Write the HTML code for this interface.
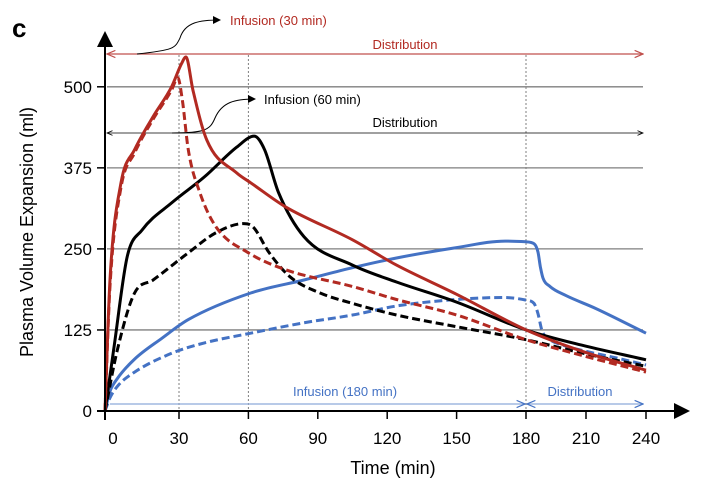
<!DOCTYPE html>
<html><head><meta charset="utf-8"><style>
body{margin:0;background:#fff;}
svg{display:block;font-family:"Liberation Sans",Arial,sans-serif;}
</style></head><body>
<svg id="chart" width="717" height="494" viewBox="0 0 717 494">
<defs>
<marker id="ab" markerWidth="8" markerHeight="8" refX="7" refY="4" orient="auto"><path d="M0,0 L8,4 L0,8 z" fill="#000"/></marker>
<marker id="ar" markerWidth="8" markerHeight="8" refX="7" refY="4" orient="auto-start-reverse"><path d="M0,1 L7,4 L0,7" fill="none" stroke="#c0504d" stroke-width="1"/></marker>
<marker id="ak" markerWidth="8" markerHeight="8" refX="7" refY="4" orient="auto-start-reverse"><path d="M0,1 L7,4 L0,7" fill="none" stroke="#000" stroke-width="1"/></marker>
<marker id="al" markerWidth="8" markerHeight="8" refX="7" refY="4" orient="auto-start-reverse"><path d="M0,1 L7,4 L0,7" fill="none" stroke="#4472c4" stroke-width="1"/></marker>
</defs>
<text x="12" y="37" font-size="26" font-weight="bold">c</text>
<g id="grid"></g>
<g id="annot">
 <line x1="107" y1="54" x2="643" y2="54" stroke="#c0504d" stroke-width="1.2" marker-start="url(#ar)" marker-end="url(#ar)"/>
 <text x="405" y="49" font-size="13" fill="#b22a22" text-anchor="middle">Distribution</text>
 <path d="M137,54 C175,50 175,48 180,38 C185,22 200,20 220,20" fill="none" stroke="#000" stroke-width="1" marker-end="url(#ab)"/>
 <text x="230" y="25" font-size="13" fill="#b22a22">Infusion (30 min)</text>
 <line x1="107" y1="133" x2="643" y2="133" stroke="#000" stroke-width="0.8" marker-start="url(#ak)" marker-end="url(#ak)"/>
 <text x="405" y="127" font-size="13" text-anchor="middle">Distribution</text>
 <path d="M172,133 C205,133 210,130 215,118 C222,102 235,99 255,99" fill="none" stroke="#000" stroke-width="1" marker-end="url(#ab)"/>
 <text x="264" y="104" font-size="13">Infusion (60 min)</text>
 <line x1="110" y1="404" x2="525" y2="404" stroke="#8eaadb" stroke-width="1.2" marker-end="url(#al)"/>
 <line x1="527" y1="404" x2="643" y2="404" stroke="#8eaadb" stroke-width="1.2" marker-start="url(#al)" marker-end="url(#al)"/>
 <text x="345" y="396" font-size="13" fill="#4472c4" text-anchor="middle">Infusion (180 min)</text>
 <text x="580" y="396" font-size="13" fill="#4472c4" text-anchor="middle">Distribution</text>
</g>
<g id="series"></g>
<g id="axes"></g>
<text x="393" y="474" font-size="18" text-anchor="middle">Time (min)</text>
<text transform="translate(33,232) rotate(-90)" font-size="18" text-anchor="middle">Plasma Volume Expansion (ml)</text>
</svg>
<script>
const xTicks=[0,30,60,90,120,150,180,210,240];
const yTicks=[0,125,250,375,500];
const redSolidT=[0,2,6.5,12,19.5,27,31,33,36,42,55,61,76,105,124,150,180,210,240];
const redSolidV=[0,200,352,403,454,500,535,546,495,418,367,352,315,264,225,180,125,90,63];
const redDashT=[0,2,6.5,12,19.5,27,29.5,31.5,34,39,46,60,76,105,124,150,180,210,240];
const redDashV=[0,190,345,398,450,495,514,478,403,337,284,244,218,192,172,148,110,84,60];
const blackSolidT=[0,3.5,9,15,27,41,55,62.5,67,73,84,105,124,150,180,210,240];
const blackSolidV=[0,94,238,279,321,361,407,424,403,337,269,225,199,168,125,100,79];
const blackDashT=[0,5,12,19.5,34,46,58,62,69,78,91,105,124,150,180,210,240];
const blackDashV=[0,94,182,202,244,275,289,284,244,207,182,166,148,130,110,88,69];
const blueSolidT=[0,2,5,12,23,34,61,84,105,124,150,171,180,184,186,187.2,188.5,192,200,215,240];
const blueSolidV=[0,30,50,80,112,141,182,202,221,236,252,262,261,258,245,222,205,192,178,158,120];
const blueDashT=[0,2,5,12,27,41,61,84,105,124,150,170,180,184,186,188,192,198,210,225,240];
const blueDashV=[0,20,38,60,89,105,120,136,148,162,172,175,171,166,150,124,110,102,92,82,71];

const NS='http://www.w3.org/2000/svg';
function xs(t){
 if(t<=30)return 105+t*(74/30);
 if(t<=180)return 179+(t-30)*(347/150);
 return 526+(t-180)*2.0;
}
function ys(v){return 411-v*0.6484;}
function mk(tag,attrs,parent){const e=document.createElementNS(NS,tag);for(const k in attrs)e.setAttribute(k,attrs[k]);parent.appendChild(e);return e;}
const grid=document.getElementById('grid'),axes=document.getElementById('axes'),series=document.getElementById('series');
yTicks.forEach(v=>{if(v===0)return;
 const l=mk('line',{x1:107,x2:643,y1:ys(v),y2:ys(v),stroke:'#7f7f7f','stroke-width':1.3},grid);
 
 
});
[30,60,180].forEach(t=>{
 const l=mk('line',{x1:xs(t),x2:xs(t),y1:55,y2:411,stroke:'#7f7f7f','stroke-width':1,'stroke-dasharray':'2,2'},grid);
 
 
});
const xa=mk('line',{x1:97,x2:688,y1:411,y2:411,stroke:'#000','stroke-width':2,'marker-end':'url(#ab)'},axes);


const ya=mk('line',{x1:105,x2:105,y1:420,y2:33,stroke:'#000','stroke-width':2,'marker-end':'url(#ab)'},axes);


xTicks.forEach(t=>{
 const tk=mk('line',{x1:xs(t),x2:xs(t),y1:411,y2:419,stroke:'#000','stroke-width':1.5},axes);
 
 
 const tx=mk('text',{x:xs(t)+(t===0?8:0),y:444,'font-size':17,'text-anchor':'middle'},axes);
 tx.textContent=t;
 
 
});
yTicks.forEach(v=>{
 const tk=mk('line',{x1:97,x2:105,y1:ys(v),y2:ys(v),stroke:'#000','stroke-width':1.5},axes);
 
 
 const tx=mk('text',{x:92,y:ys(v)+6,'font-size':17,'text-anchor':'end'},axes);
 tx.textContent=v;
 
 
});
function pathFrom(T,V){
 const X=T.map(xs),Y=V.map(ys),n=X.length;
 const d=[],m=new Array(n);
 for(let i=0;i<n-1;i++)d.push((Y[i+1]-Y[i])/(X[i+1]-X[i]));
 m[0]=d[0];m[n-1]=d[n-2];
 for(let i=1;i<n-1;i++){m[i]=(d[i-1]*d[i]<=0)?0:(d[i-1]+d[i])/2;}
 for(let i=0;i<n-1;i++){
  if(d[i]===0){m[i]=0;m[i+1]=0;continue;}
  const a=m[i]/d[i],b=m[i+1]/d[i],s=a*a+b*b;
  if(s>9){const tt=3/Math.sqrt(s);m[i]=tt*a*d[i];m[i+1]=tt*b*d[i];}
 }
 let p='M'+X[0].toFixed(1)+','+Y[0].toFixed(1);
 for(let i=0;i<n-1;i++){
  const h=(X[i+1]-X[i])/3;
  p+=' C'+(X[i]+h).toFixed(1)+','+(Y[i]+m[i]*h).toFixed(1)+' '+(X[i+1]-h).toFixed(1)+','+(Y[i+1]-m[i+1]*h).toFixed(1)+' '+X[i+1].toFixed(1)+','+Y[i+1].toFixed(1);
 }
 return p;
}
const defs=[
 [blueDashT,blueDashV,'#4472c4',true,'blue-dashed-line'],
 [blueSolidT,blueSolidV,'#4472c4',false,'blue-solid-line'],
 [blackDashT,blackDashV,'#000',true,'black-dashed-line'],
 [blackSolidT,blackSolidV,'#000',false,'black-solid-line'],
 [redDashT,redDashV,'#b22a22',true,'red-dashed-line'],
 [redSolidT,redSolidV,'#b22a22',false,'red-solid-line']
];
defs.forEach(s=>{
 const el=mk('path',{d:pathFrom(s[0],s[1]),fill:'none',stroke:s[2],'stroke-width':3,'stroke-dasharray':s[3]?'8,4':'none','stroke-linejoin':'round'},series);
 
 
});
</script>
</body></html>
